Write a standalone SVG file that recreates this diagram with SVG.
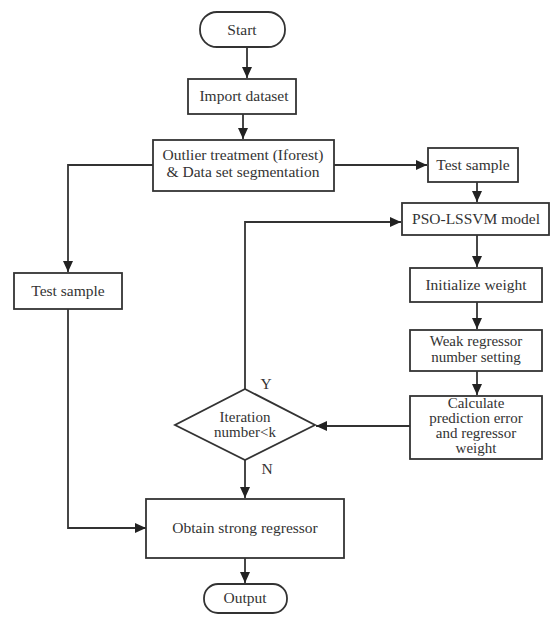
<svg xmlns="http://www.w3.org/2000/svg" width="557" height="617" viewBox="0 0 557 617">
<style>
.b{fill:#fff;stroke:#333;stroke-width:1.8}
.t{font-family:"Liberation Serif","Times New Roman",serif;font-size:15.5px;fill:#333;text-anchor:middle}
.s{font-size:15px}
.c{fill:none;stroke:#333;stroke-width:1.8}
</style>
<defs>
<marker id="a" markerUnits="userSpaceOnUse" markerWidth="12" markerHeight="10" refX="11" refY="5" orient="auto">
<path d="M0,0 L11,5 L0,10 Z" fill="#222"/>
</marker>
</defs>
<rect width="557" height="617" fill="#fff"/>
<g id="connectors">
<path class="c" d="M247,47 V78" marker-end="url(#a)"/>
<path class="c" d="M243,114 V139" marker-end="url(#a)"/>
<path class="c" d="M153,165 H68 V272" marker-end="url(#a)"/>
<path class="c" d="M334,165 H427" marker-end="url(#a)"/>
<path class="c" d="M477,182 V202" marker-end="url(#a)"/>
<path class="c" d="M477,235 V267" marker-end="url(#a)"/>
<path class="c" d="M477,302 V329" marker-end="url(#a)"/>
<path class="c" d="M477,371 V395" marker-end="url(#a)"/>
<path class="c" d="M410,426 H316" marker-end="url(#a)"/>
<path class="c" d="M245,389 V222 H401" marker-end="url(#a)"/>
<path class="c" d="M245,460 V498" marker-end="url(#a)"/>
<path class="c" d="M68,309 V528 H146" marker-end="url(#a)"/>
<path class="c" d="M245,558 V583" marker-end="url(#a)"/>
<text class="t" x="266" y="389">Y</text>
<text class="t" x="267" y="474">N</text>
</g>
<g id="start">
<rect class="b" x="200" y="12" width="85" height="35" rx="17"/>
<text class="t" x="242" y="35">Start</text>
</g>
<g id="import">
<rect class="b" x="188" y="79" width="108" height="35"/>
<text class="t" x="244" y="101">Import dataset</text>
</g>
<g id="outlier">
<rect class="b" x="153" y="140" width="181" height="51"/>
<text class="t" x="243" y="160">Outlier treatment  (Iforest)</text>
<text class="t" x="243" y="177">&amp; Data set segmentation</text>
</g>
<g id="test-right">
<rect class="b" x="428" y="148" width="90" height="34"/>
<text class="t" x="473" y="170">Test sample</text>
</g>
<g id="pso">
<rect class="b" x="402" y="203" width="147" height="32"/>
<text class="t" x="476" y="224">PSO-LSSVM model</text>
</g>
<g id="init">
<rect class="b" x="410" y="268" width="132" height="34"/>
<text class="t" x="476" y="290">Initialize weight</text>
</g>
<g id="weak">
<rect class="b" x="410" y="330" width="132" height="41"/>
<text class="t s" x="476" y="346">Weak regressor</text>
<text class="t s" x="476" y="362">number setting</text>
</g>
<g id="calc">
<rect class="b" x="410" y="396" width="132" height="63"/>
<text class="t s" x="476" y="408">Calculate</text>
<text class="t s" x="476" y="423">prediction error</text>
<text class="t s" x="476" y="438">and regressor</text>
<text class="t s" x="476" y="453">weight</text>
</g>
<g id="test-left">
<rect class="b" x="14" y="273" width="108" height="36"/>
<text class="t" x="68" y="296">Test sample</text>
</g>
<g id="decision">
<polygon class="b" points="245,389 315,425 245,460 175,425"/>
<text class="t s" x="245" y="422">Iteration</text>
<text class="t s" x="245" y="437">number&lt;k</text>
</g>
<g id="obtain">
<rect class="b" x="146" y="499" width="198" height="59"/>
<text class="t" x="245" y="533">Obtain strong regressor</text>
</g>
<g id="output">
<rect class="b" x="204" y="584" width="83" height="29" rx="14"/>
<text class="t" x="245" y="603">Output</text>
</g>
</svg>
